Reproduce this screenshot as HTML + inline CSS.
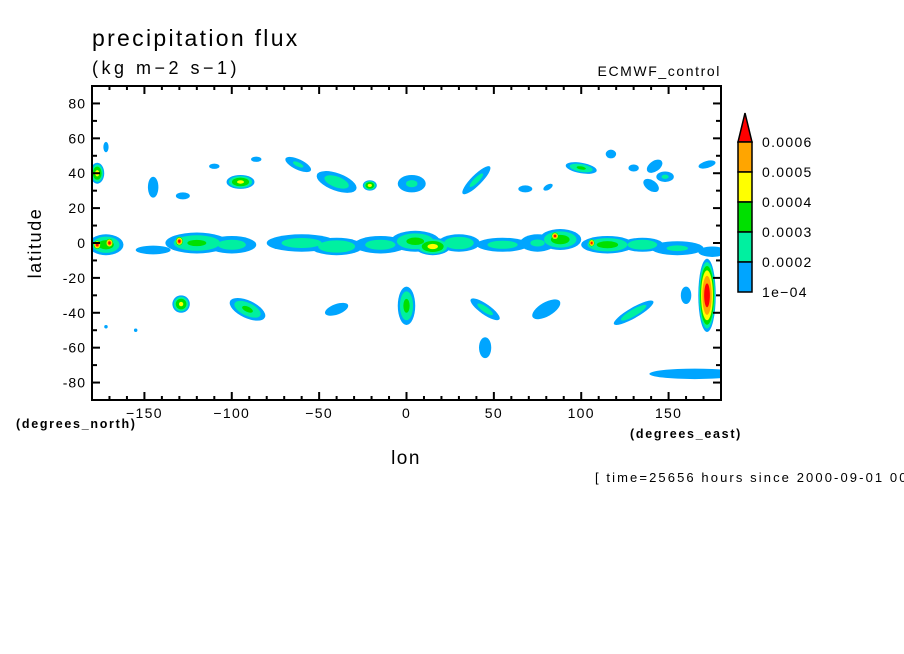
<!DOCTYPE html>
<html><head><meta charset="utf-8"><style>
body{margin:0;background:#fff;width:904px;height:654px;overflow:hidden;font-family:"Liberation Sans",sans-serif}
svg{position:absolute;left:0;top:0}
text{font-family:"Liberation Sans",sans-serif;fill:#000}
</style></head><body>
<svg id="chart" width="904" height="654">
<defs><clipPath id="plotclip"><rect x="92" y="86" width="629" height="314"/></clipPath></defs>
<text x="92" y="46" font-size="23" letter-spacing="2.3">precipitation flux</text>
<text x="92" y="74" font-size="18" letter-spacing="3.5">(kg m−2 s−1)</text>
<text x="721" y="76" font-size="14" letter-spacing="1.6" text-anchor="end">ECMWF_control</text>
<g id="field" clip-path="url(#plotclip)"></g>
<g id="axes"></g>
<g id="cbar"></g>
<text transform="translate(41,243) rotate(-90)" font-size="18" letter-spacing="1.6" text-anchor="middle">latitude</text>
<text x="406" y="464" font-size="19" letter-spacing="1.5" text-anchor="middle">lon</text>
<text x="16" y="428" font-size="12.5" letter-spacing="1.7" font-weight="bold">(degrees_north)</text>
<text x="630" y="438" font-size="12.5" letter-spacing="1.7" font-weight="bold">(degrees_east)</text>
<text x="595" y="482" font-size="13" letter-spacing="2.1">[ time=25656 hours since 2000-09-01 00</text>
</svg>
<script>
// blobs: lon, lat, rx(deg), ry(deg), peak (units 1e-4), rotation(deg)
const blobLon  = [-177,-172,-145,-128,-110,-95,-86,-62,-40,-21,3,40,68,81,100,117,130,142,148,140,172,
  -172,-145,-120,-100,-60,-40,-15,5,15,30,55,75,88,115,135,155,175,-177,-170,-130,85,106,
  -129,-91,-40,0,45,45,80,130,160,172,165,-155,-172];
const blobLat  = [40,55,32,27,44,35,48,45,35,33,34,36,31,32,43,51,43,44,38,33,45,
  -1,-4,0,-1,0,-2,-1,1,-2,0,-1,0,2,-1,-1,-3,-5,-1,0,1,4,0,
  -35,-38,-38,-36,-38,-60,-38,-40,-30,-30,-75,-50,-48];
const blobRx   = [4,1.5,3,4,3,8,3,8,12,4,8,11,4,3,9,3,3,5,5,5,5,
  10,10,18,14,20,15,15,14,10,12,15,10,12,15,12,15,8,2.5,2.5,2.5,2.5,2,
  5,11,7,5,10,3.5,9,13,3,5,26,1,1];
const blobRy   = [6,3,6,2,1.5,4,1.5,3,5,3,5,3,2,1.5,3,2.5,2,3,3,3,2,
  6,2.5,6,5,5,5,5,6,5,5,4,5,6,5,4,4,3,3,3,3,2.5,2.5,
  5,5,3,11,3,6,4,3,5,21,3,1,1];
const blobPeak = [4.3,1.3,1.6,1.2,1.2,4.2,1.2,2.2,2.6,4.3,2.2,2.3,1.4,1.2,3.2,1.2,1.2,1.8,2.2,1.8,1.3,
  3.5,1.2,3.2,2.5,2.5,3,2.5,3.3,4.3,3,2.5,2.2,3.5,3.4,3,2.2,1.5,6.5,6.5,6.5,6.4,6.3,
  4.2,3.2,1.3,3.3,2.4,1.3,1.9,2.7,1.5,6.6,1.3,1,1];
const blobRot  = [0,0,0,0,0,0,0,25,20,0,0,-45,0,-30,10,0,0,-35,0,35,-15,
  0,0,0,0,0,0,0,0,0,0,0,0,0,0,0,0,0,0,0,0,0,0,
  0,25,-20,0,35,0,-30,-30,0,0,0,0,0];
const levelColors = ["#00a5ff","#00f0a0","#00e000","#ffff00","#ffa500","#ff0000"];
const cbarLabels = ["1e-04","0.0002","0.0003","0.0004","0.0005","0.0006"];
const latTicks = [80,60,40,20,0,-20,-40,-60,-80];
const lonTicks = [-150,-100,-50,0,50,100,150];

const NS="http://www.w3.org/2000/svg";
const X0=92,X1=721,Y0=86,Y1=400;
const xs=lon=>X0+(lon+180)/360*(X1-X0);
const ys=lat=>Y0+(90-lat)/180*(Y1-Y0);
const pxLon=(X1-X0)/360, pxLat=(Y1-Y0)/180;
function mk(tag,attrs,parent){const e=document.createElementNS(NS,tag);for(const k in attrs)e.setAttribute(k,attrs[k]);parent.appendChild(e);return e;}

const field=document.getElementById('field');
for(let k=1;k<=6;k++){
  for(let i=0;i<blobLon.length;i++){
    const p=blobPeak[i]; if(p<k) continue;
    const f = k===1?1:(p>1?Math.sqrt((p-k)/(p-1)):0);
    if(f<=0.05) continue;
    const cx=xs(blobLon[i]), cy=ys(blobLat[i]);
    const el=mk('ellipse',{cx:cx,cy:cy,rx:Math.max(1,blobRx[i]*pxLon*f),ry:Math.max(1,blobRy[i]*pxLat*f),
      fill:levelColors[k-1],transform:`rotate(${blobRot[i]} ${cx} ${cy})`},field);
    
    
  }
}

const axes=document.getElementById('axes');
const frame=mk('rect',{x:X0,y:Y0,width:X1-X0,height:Y1-Y0,fill:'none',stroke:'#000','stroke-width':2},axes);


for(let lat=-80;lat<=80;lat+=10){
  const y=ys(lat), L=(lat%20===0)?8:5;
  mk('line',{x1:X0,y1:y,x2:X0+L,y2:y,stroke:'#000','stroke-width':2},axes);
  mk('line',{x1:X1,y1:y,x2:X1-L,y2:y,stroke:'#000','stroke-width':2},axes);
}
latTicks.forEach(lat=>{
  const t=mk('text',{x:X0-6,y:ys(lat)+5,'font-size':14,'letter-spacing':1,'text-anchor':'end'},axes);
  t.textContent=lat;
  
  
});
for(let lon=-170;lon<=170;lon+=10){
  const x=xs(lon), L=(lon%50===0)?8:4;
  mk('line',{x1:x,y1:Y1,x2:x,y2:Y1-L,stroke:'#000','stroke-width':2},axes);
  mk('line',{x1:x,y1:Y0,x2:x,y2:Y0+L,stroke:'#000','stroke-width':2},axes);
}
lonTicks.forEach(lon=>{
  const t=mk('text',{x:xs(lon),y:Y1+18,'font-size':14,'letter-spacing':1.3,'text-anchor':'middle'},axes);
  t.textContent=(lon<0?'−':'')+Math.abs(lon);
  
  
});

const cb=document.getElementById('cbar');
const CBX=738,CBW=14,CBTOP=142,CBH=30;
const tri=mk('polygon',{points:`${CBX},${CBTOP} ${CBX+CBW},${CBTOP} ${CBX+CBW/2},${CBTOP-29}`,fill:levelColors[5],stroke:'#000','stroke-width':1.5},cb);


for(let i=0;i<5;i++){
  const r=mk('rect',{x:CBX,y:CBTOP+i*CBH,width:CBW,height:CBH,fill:levelColors[4-i],stroke:'#000','stroke-width':1.5},cb);
  
  
}
cbarLabels.forEach((lab,i)=>{
  const t=mk('text',{x:762,y:CBTOP+(5-i)*CBH+5,'font-size':14,'letter-spacing':1.3},cb);
  t.textContent=lab.replace('-','−');
  
  
});
</script>
</body></html>
